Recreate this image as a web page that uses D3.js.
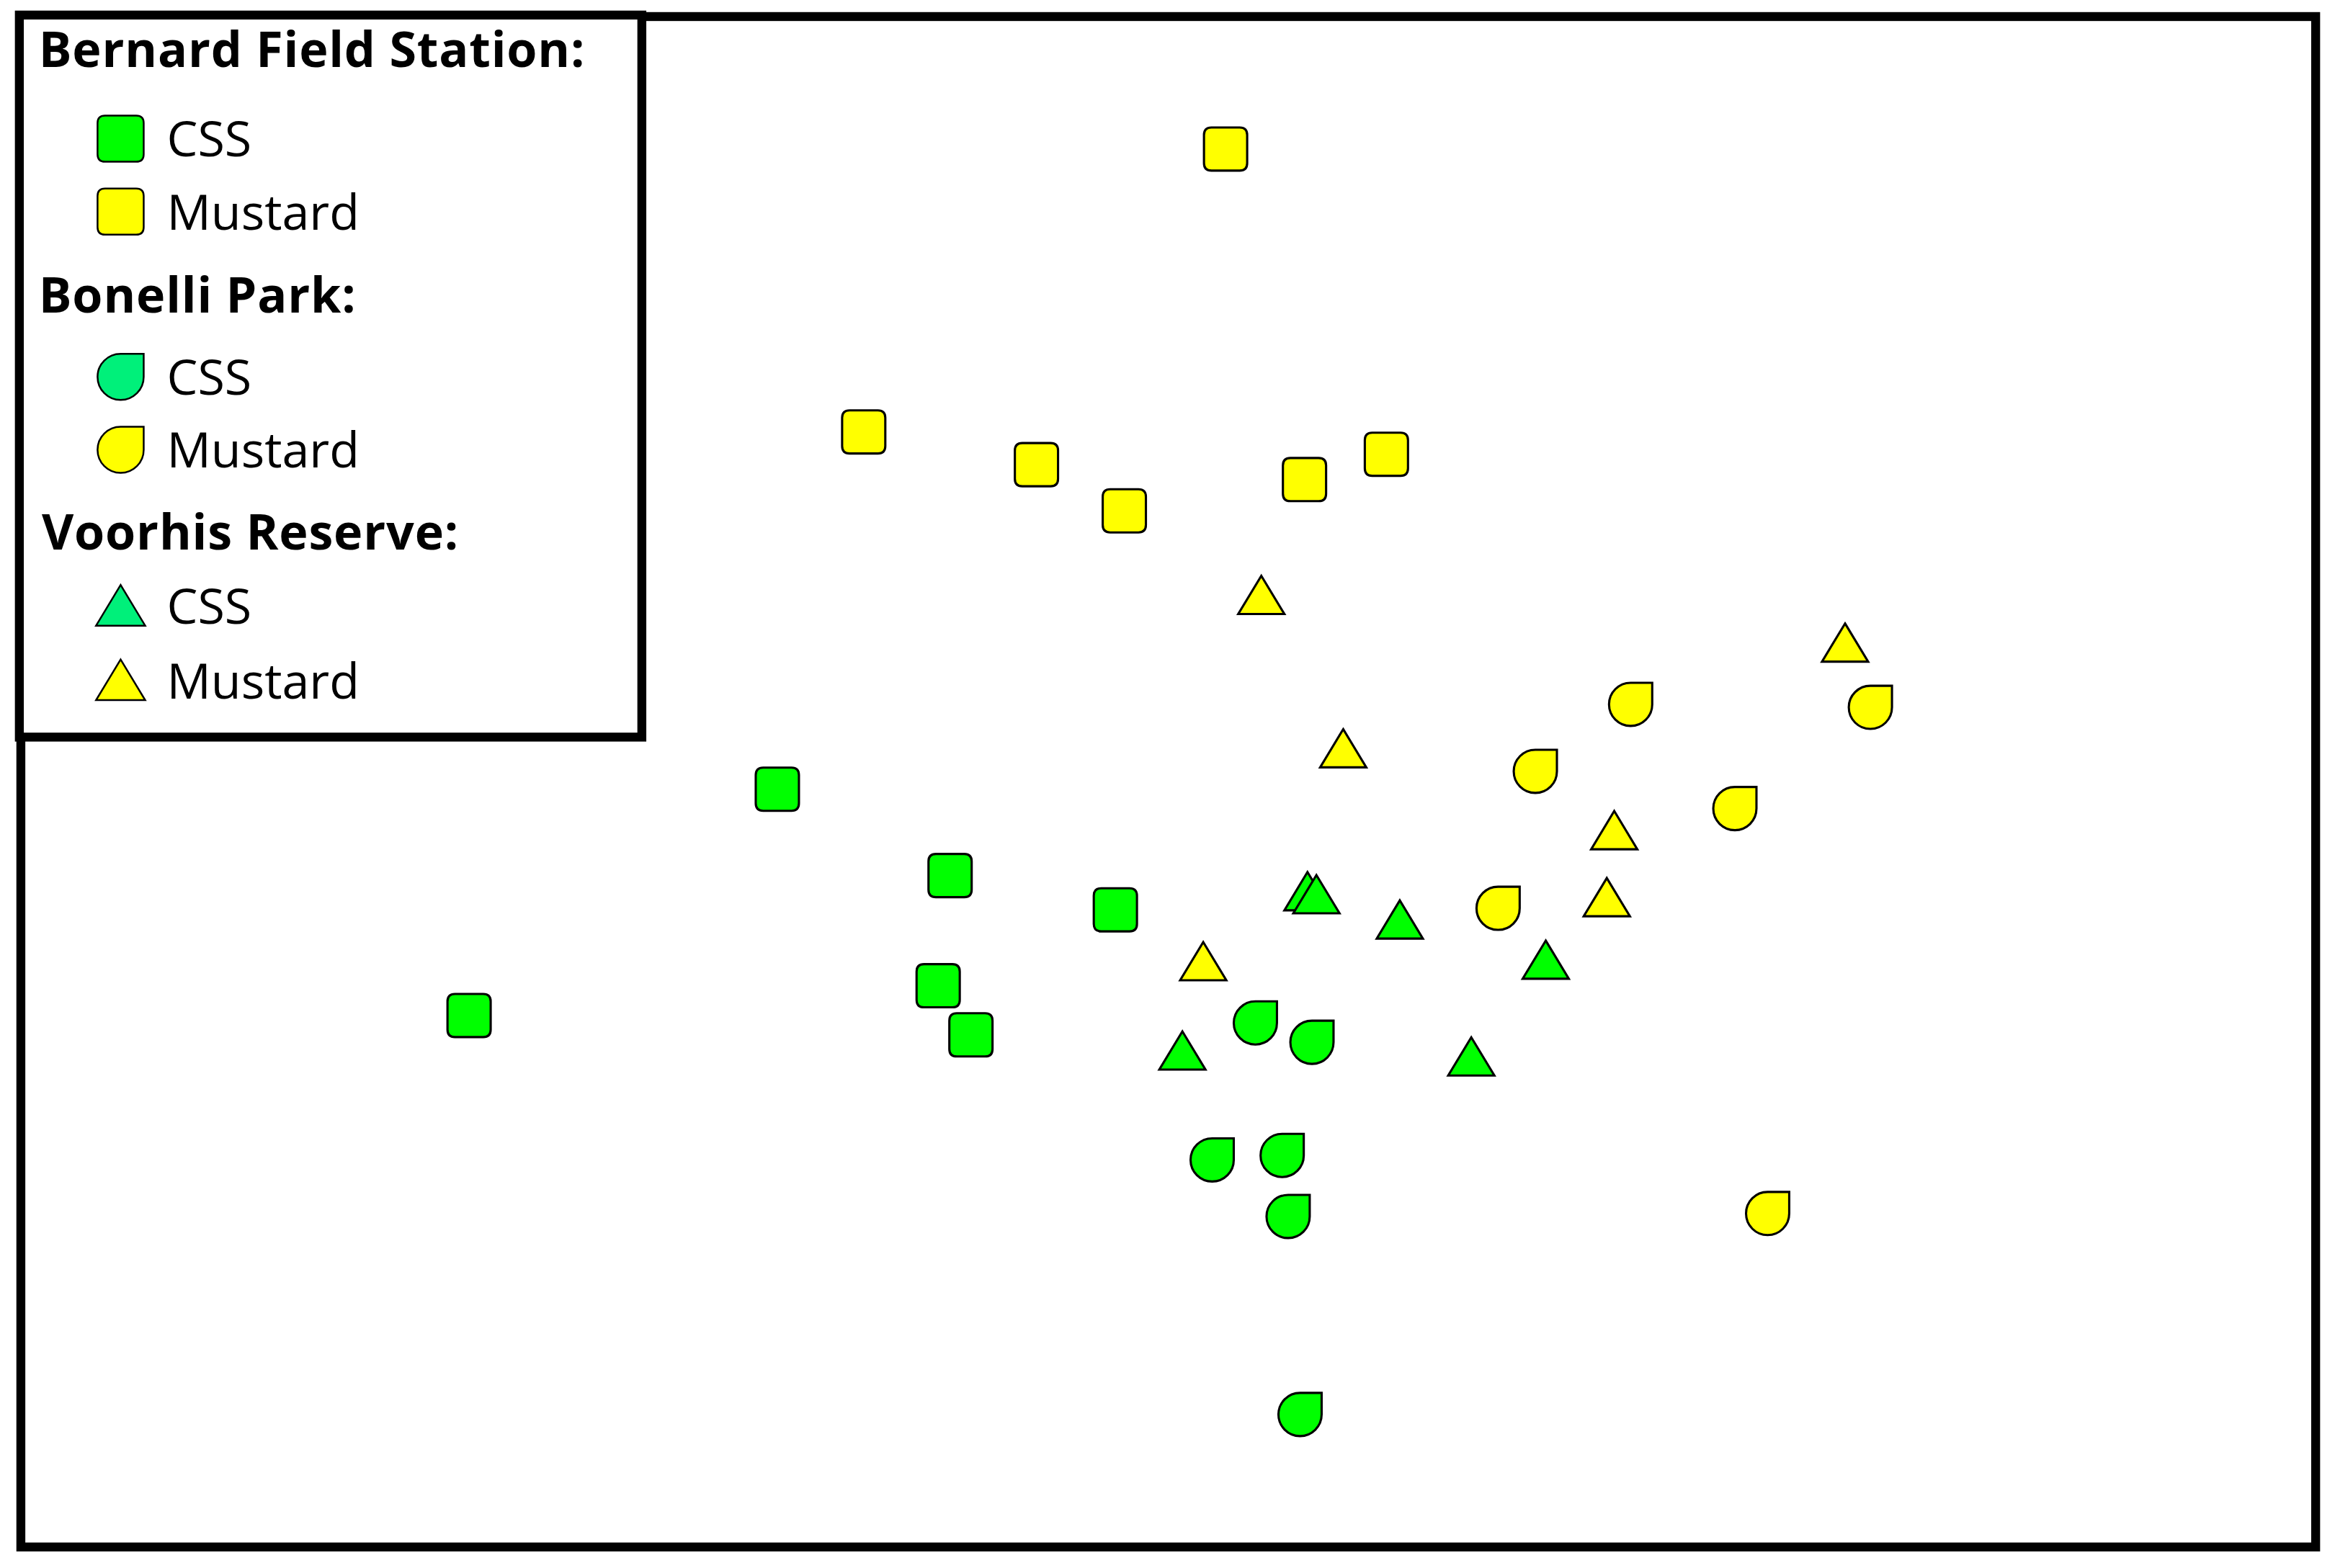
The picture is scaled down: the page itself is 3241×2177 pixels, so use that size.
<!DOCTYPE html>
<html><head><meta charset="utf-8">
<script src="https://cdn.jsdelivr.net/npm/d3@7"></script>
<style>body{margin:0;background:#fff}</style>
</head><body>
<svg id="chart"></svg>
<script>
// ordination scores (arbitrary axis units)
const bernardCSS = [[522,530],[638,588],[749,611],[630,662],[652,695],[315,682]];
const bernardMustard = [[823,100],[580,290],[696,312],[755,343],[876,322],[931,305]];
const bonelliCSS = [[843,687],[881,700],[814,779],[861,776],[865,817],[873,950]];
const bonelliMustard = [[1095,473],[1256,475],[1031,518],[1165,543],[1006,610],[1187,815]];
const voorhisCSS = [[878,599],[884,601],[940,618],[1038,645],[794,706],[988,710]];
const voorhisMustard = [[847,400],[902,503],[1084,558],[1079,603],[808,646],[1239,432]];

const sites = ['Bernard Field Station:', 'Bonelli Park:', 'Voorhis Reserve:'];
const habitats = ['CSS', 'Mustard'];

const W = 1568, H = 1053;
const svg = d3.select('#chart')
    .attr('width', 3241).attr('height', 2177)
    .attr('viewBox', `0 0 ${W} ${H}`);

const x = d3.scaleLinear().domain([0, 1568]).range([0, W]);
const y = d3.scaleLinear().domain([0, 1053]).range([0, H]);

// marker shapes, centred on 0,0
function shapePath(kind, s) {
    const h = s / 2;
    if (kind === 'square') {
        const r = 5;
        return `M${-h + r},${-h}H${h - r}Q${h},${-h} ${h},${-h + r}V${h - r}Q${h},${h} ${h - r},${h}` +
            `H${-h + r}Q${-h},${h} ${-h},${h - r}V${-h + r}Q${-h},${-h} ${-h + r},${-h}Z`;
    }
    if (kind === 'drop') {
        return `M0,${-h}H${h}V0A${h},${h} 0 1 1 0,${-h}Z`;
    }
    const th = s * 0.85;
    return `M0,${-th / 2 - 1}L${h + 1},${th / 2}H${-h - 1}Z`;
}

const groups = [
    { pts: bernardCSS, kind: 'square', fill: '#00ff00' },
    { pts: bernardMustard, kind: 'square', fill: '#ffff00' },
    { pts: bonelliCSS, kind: 'drop', fill: '#00ff00' },
    { pts: bonelliMustard, kind: 'drop', fill: '#ffff00' },
    { pts: voorhisCSS, kind: 'tri', fill: '#00ff00' },
    { pts: voorhisMustard, kind: 'tri', fill: '#ffff00' }
];

// frame
svg.append('rect').attr('x', 14).attr('y', 11).attr('width', 1541).attr('height', 1028)
    .attr('fill', 'none').attr('stroke', '#000').attr('stroke-width', 6);

const marks = svg.append('g');
groups.forEach(g => {
    marks.selectAll(null).data(g.pts).enter().append('path')
        .attr('d', shapePath(g.kind, 29))
        .attr('transform', d => `translate(${x(d[0])},${y(d[1])})`)
        .attr('fill', g.fill).attr('stroke', '#000').attr('stroke-width', 1.5);
});

// legend
const leg = svg.append('g');
leg.append('rect').attr('x', 13).attr('y', 10).attr('width', 418).attr('height', 485)
    .attr('fill', '#fff').attr('stroke', '#000').attr('stroke-width', 6);

const legendFills = [['#00ff00', '#ffff00'], ['#00f07a', '#ffff00'], ['#00f07a', '#ffff00']];
const kinds = ['square', 'drop', 'tri'];
const headerY = [45, 210, 369];
const itemY = [[93, 142], [253, 302], [407, 457]];
sites.forEach((s, i) => {
    leg.append('text').attr('x', i === 2 ? 28 : 26).attr('y', headerY[i])
        .attr('font-family', '"Open Sans", sans-serif').attr('font-weight', 'bold')
        .attr('font-size', 33).attr('letter-spacing', 0.4).text(s);
    habitats.forEach((hb, j) => {
        leg.append('path').attr('d', shapePath(kinds[i], 31))
            .attr('transform', `translate(81,${itemY[i][j]})`)
            .attr('fill', legendFills[i][j]).attr('stroke', '#000').attr('stroke-width', 1.2);
        leg.append('text').attr('x', 112).attr('y', itemY[i][j] + 12)
            .attr('font-family', '"Open Sans", sans-serif').attr('font-size', 33).text(hb);
    });
});
</script>
</body></html>
